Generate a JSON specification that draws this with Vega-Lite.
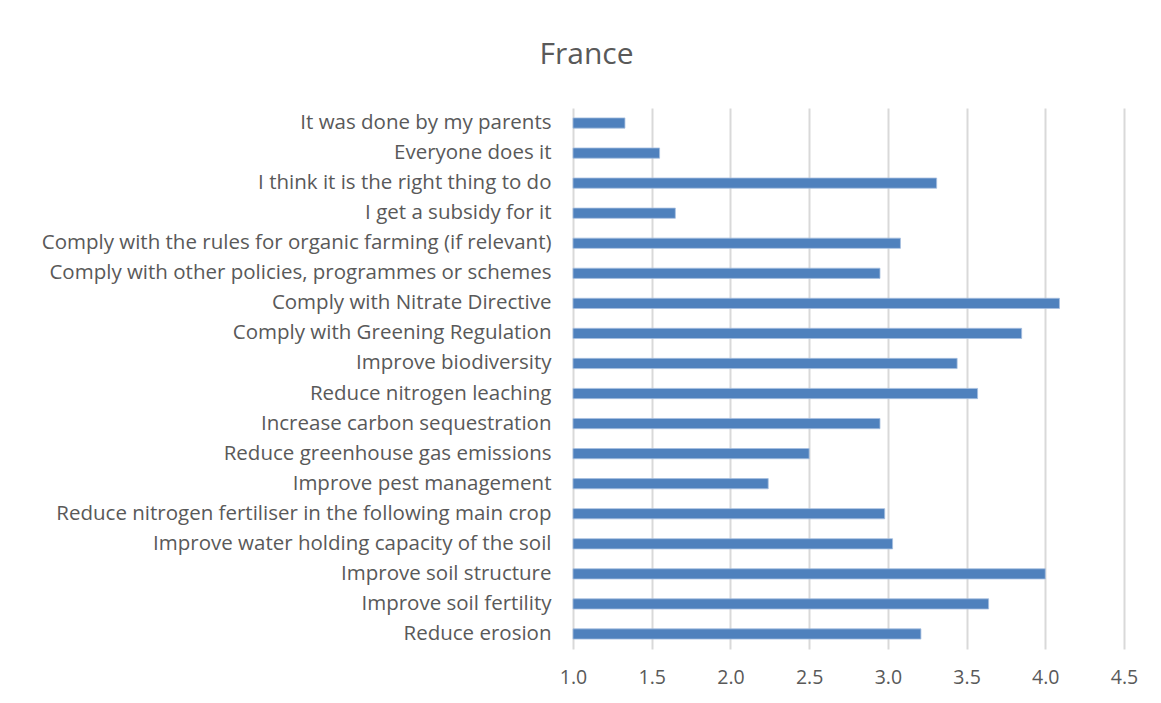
{
  "$schema": "https://vega.github.io/schema/vega-lite/v6.json",
  "width": 551,
  "height": 541,
  "padding": {"left": 41, "top": 40, "right": 30, "bottom": 10},
  "background": "white",
  "title": {
    "text": "France",
    "fontSize": 30,
    "font": "Open Sans",
    "fontWeight": "normal",
    "color": "#595959",
    "anchor": "middle",
    "frame": "bounds",
    "dx": -3,
    "offset": 38
  },
  "data": {
    "values": [
      {"reason": "It was done by my parents", "score": 1.33},
      {"reason": "Everyone does it", "score": 1.55},
      {"reason": "I think it is the right thing to do", "score": 3.31},
      {"reason": "I get a subsidy for it", "score": 1.65},
      {"reason": "Comply with the rules for organic farming (if relevant)", "score": 3.08},
      {"reason": "Comply with other policies, programmes or schemes", "score": 2.95},
      {"reason": "Comply with Nitrate Directive", "score": 4.09},
      {"reason": "Comply with Greening Regulation", "score": 3.85},
      {"reason": "Improve biodiversity", "score": 3.44},
      {"reason": "Reduce nitrogen leaching", "score": 3.57},
      {"reason": "Increase carbon sequestration", "score": 2.95},
      {"reason": "Reduce greenhouse gas emissions", "score": 2.5},
      {"reason": "Improve pest management", "score": 2.24},
      {"reason": "Reduce nitrogen fertiliser in the following main crop", "score": 2.98},
      {"reason": "Improve water holding capacity of the soil", "score": 3.03},
      {"reason": "Improve soil structure", "score": 4.0},
      {"reason": "Improve soil fertility", "score": 3.64},
      {"reason": "Reduce erosion", "score": 3.21}
    ]
  },
  "mark": {"type": "bar", "color": "#4f81bd", "stroke": "#a7bfe0", "strokeWidth": 0.8},
  "encoding": {
    "y": {
      "field": "reason",
      "type": "nominal",
      "sort": null,
      "scale": {"paddingInner": 0.66, "paddingOuter": 0.33},
      "axis": {
        "title": null,
        "ticks": false,
        "domain": false,
        "labelFont": "Open Sans",
        "labelFontSize": 20.5,
        "labelColor": "#595959",
        "labelPadding": 22,
        "labelLimit": 700
      }
    },
    "x": {
      "field": "score",
      "type": "quantitative",
      "scale": {"domain": [1, 4.5], "zero": false, "nice": false},
      "axis": {
        "title": null,
        "values": [1, 1.5, 2, 2.5, 3, 3.5, 4, 4.5],
        "format": ".1f",
        "ticks": false,
        "domain": false,
        "grid": true,
        "gridColor": "#d9d9d9",
        "gridWidth": 2,
        "labelFlush": false,
        "labelFont": "Open Sans",
        "labelFontSize": 19.5,
        "labelColor": "#595959",
        "labelPadding": 19
      }
    },
    "x2": {"datum": 1}
  },
  "config": {"view": {"stroke": null}}
}
